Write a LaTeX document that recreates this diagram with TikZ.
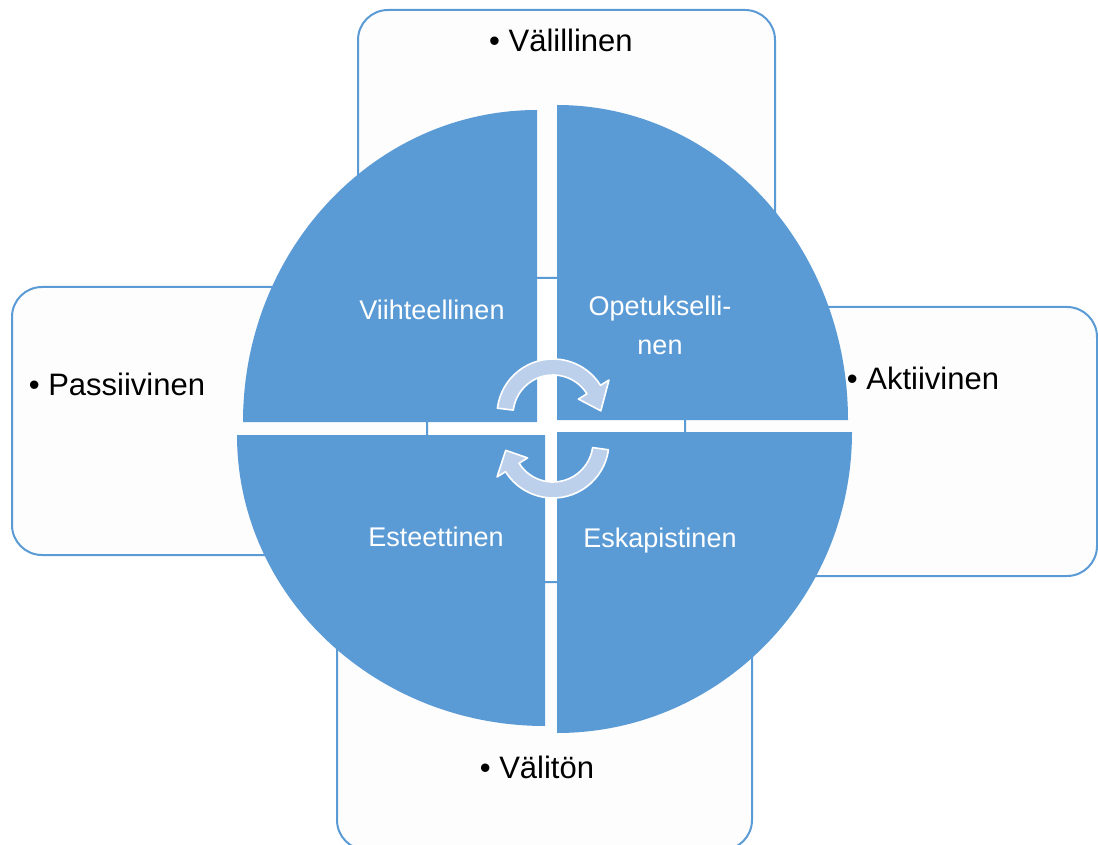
\documentclass[tikz,border=0pt]{standalone}
\usepackage{fontspec}
\setmainfont{Liberation Sans}
\usetikzlibrary{calc}

\definecolor{quarterblue}{RGB}{91,155,213}
\definecolor{boxfill}{RGB}{253,253,253}
\definecolor{cyclefill}{RGB}{189,208,235}

\begin{document}
\begin{tikzpicture}[x=0.5pt, y=-0.5pt,
    box/.style={draw=quarterblue, fill=boxfill, line width=1pt, rounded corners=15pt},
    quarter/.style={fill=quarterblue},
    cyclearrow/.style={fill=cyclefill, draw=white, line width=0.8pt, line join=round},
    outer/.style={text=black, font=\fontsize{15.5}{19}\selectfont, anchor=base},
    inner/.style={text=white, font=\fontsize{13.5}{20}\selectfont, anchor=base, align=center}]
\useasboundingbox (0,0) rectangle (1098,845);

% boxes behind the circle
\draw[box] (358,10) rectangle (775,278);
\draw[box] (12,287) rectangle (427,555);
\draw[box] (685,307) rectangle (1097,576);
\draw[box] (337,582) rectangle (752,850);

% four quarters
\fill[quarter] (537,422) -- (243,422) arc[start angle=180, end angle=270, x radius=294, y radius=312] -- cycle;
\fill[quarter] (557,420) -- (557,105) arc[start angle=270, end angle=360, x radius=291, y radius=315] -- cycle;
\fill[quarter] (557,432) -- (852,432) arc[start angle=0, end angle=90, x radius=295, y radius=301] -- cycle;
\fill[quarter] (545,435) -- (545,726) arc[start angle=90, end angle=180, x radius=308, y radius=291] -- cycle;

% cycle arrows
\coordinate (ctop) at (553,415);
\coordinate (cbot) at (553,442);
\draw[cyclearrow] ($(ctop)+(187:56)$) arc[start angle=187, end angle=328, radius=56]
  -- ($(ctop)+(328:66)$) -- ($(ctop)+(355:48)$) -- ($(ctop)+(328:30)$)
  -- ($(ctop)+(328:40)$) arc[start angle=328, end angle=187, radius=40] -- cycle;
\draw[cyclearrow] ($(cbot)+(8:56)$) arc[start angle=8, end angle=148, radius=56]
  -- ($(cbot)+(148:66)$) -- ($(cbot)+(170:48)$) -- ($(cbot)+(148:30)$)
  -- ($(cbot)+(148:40)$) arc[start angle=148, end angle=8, radius=40] -- cycle;

% labels
\node[outer] (valillinen) at (561,52) {• Välillinen};
\node[outer] (passiivinen) at (117,395) {• Passiivinen};
\node[outer] (aktiivinen) at (923,389) {• Aktiivinen};
\node[outer] (valiton) at (537,778) {• Välitön};

\node[inner] (viihde) at (432,320) {Viihteellinen};
\node[inner] (opetus) at (660,355) {Opetukselli-\\nen};
\node[inner] (esteet) at (436,546) {Esteettinen};
\node[inner] (eskap) at (660,547) {Eskapistinen};
\end{tikzpicture}
\end{document}
